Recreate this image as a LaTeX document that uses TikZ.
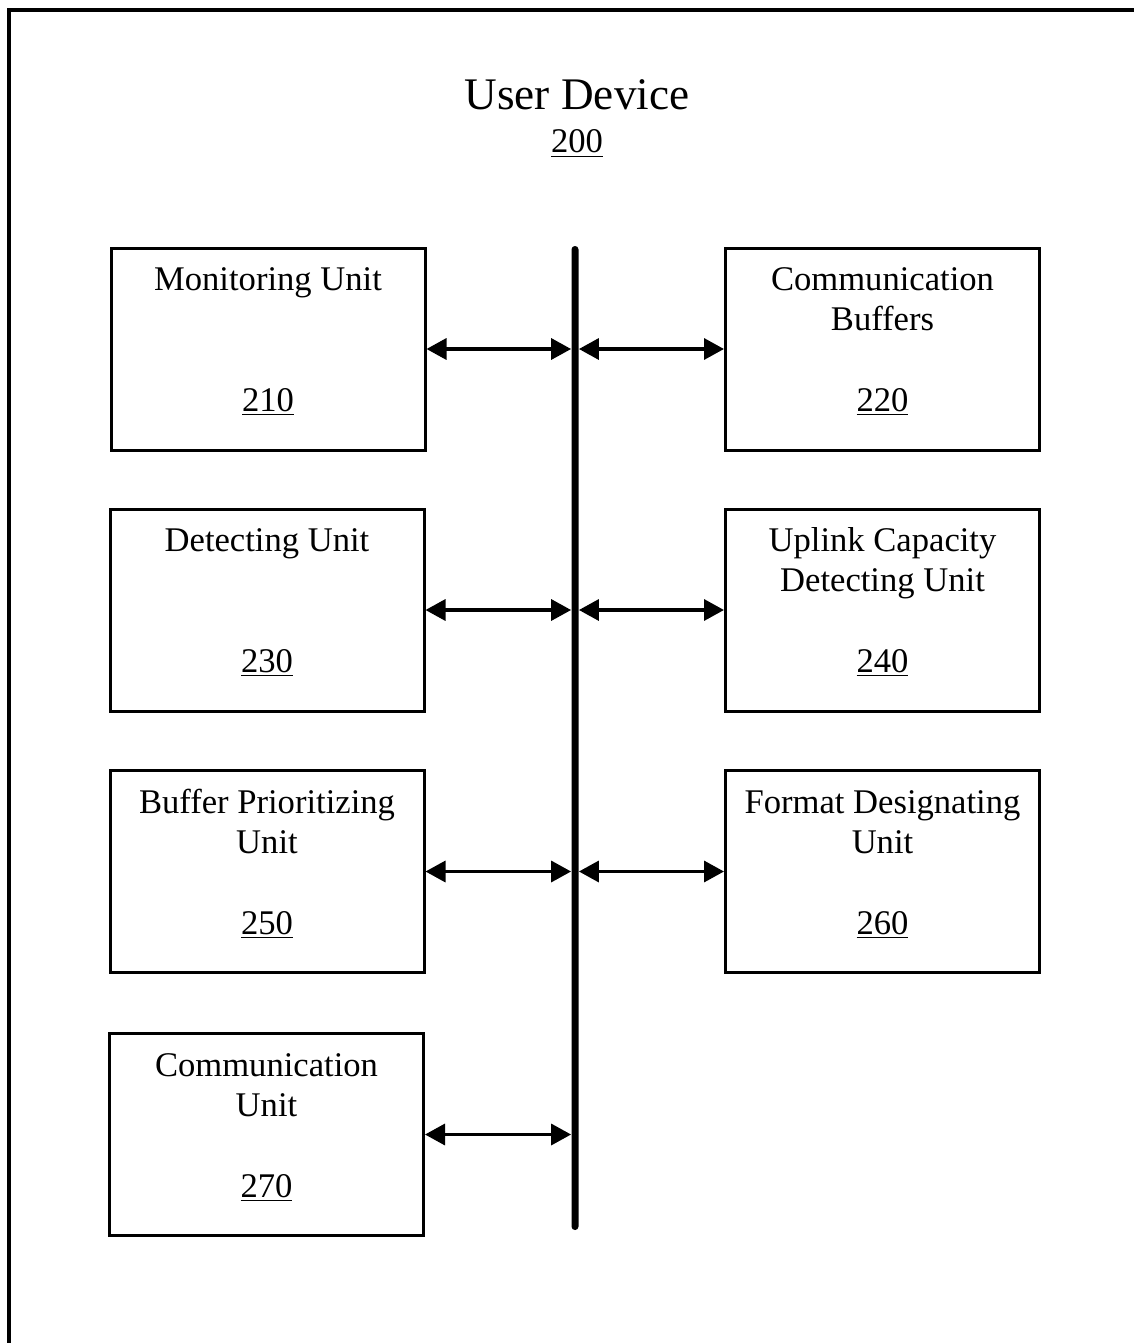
\documentclass[tikz,border=0pt]{standalone}
\usepackage{fontspec}
\setmainfont{Liberation Serif}
\usetikzlibrary{calc,arrows.meta}
\newcommand\mkunit[5]{%
  \node[unitbox] (#1) at #2 {};
  \node[utext] (#1a) at ($(#1.north)+(0,44)$) {#3};
  \node[utext] (#1b) at ($(#1.north)+(0,84)$) {#4};
  \node[utext] (#1n) at ($(#1.north)+(0,165)$) {\underline{#5}};
}
\tikzset{
  unitbox/.style={draw, line width=1.5pt, minimum width=157pt, minimum height=101pt, inner sep=0pt},
  utext/.style={anchor=base, inner sep=0pt, font=\fontsize{17.3}{20}\selectfont},
  conn/.style={line width=1.7pt, {Triangle[length=10pt,width=10.5pt]}-{Triangle[length=10pt,width=10.5pt]}},
  busline/.style={fill=black, minimum width=3.5pt, minimum height=492pt, inner sep=0pt, rounded corners=1.7pt}
}
\begin{document}
\begin{tikzpicture}[x=0.5pt,y=-0.5pt]
\useasboundingbox (0,0) rectangle (1134,1343);
\clip (0,0) rectangle (1134,1343);
\draw[line width=2pt] (9,1360) -- (9,10) -- (1150,10);
\node[anchor=base, inner sep=0pt, font=\fontsize{22.6}{26}\selectfont] (title) at (577,110) {User Device};
\node[anchor=base, inner sep=0pt, font=\fontsize{17.3}{20}\selectfont] (titlenum) at (577,153) {\underline{200}};
\node[busline] (bus) at (575,738) {};
\mkunit{m210}{(268,349)}{Monitoring Unit}{}{210}
\mkunit{m220}{(882.5,349)}{Communication}{Buffers}{220}
\mkunit{m230}{(267,610)}{Detecting Unit}{}{230}
\mkunit{m240}{(882.5,610)}{Uplink Capacity}{Detecting Unit}{240}
\mkunit{m250}{(267,871.5)}{Buffer Prioritizing}{Unit}{250}
\mkunit{m260}{(882.5,871.5)}{Format Designating}{Unit}{260}
\mkunit{m270}{(266.5,1134.5)}{Communication}{Unit}{270}
\draw[conn] (m210.east) -- (m210.east -| bus.west);
\draw[conn] (bus.east |- m220.west) -- (m220.west);
\draw[conn] (m230.east) -- (m230.east -| bus.west);
\draw[conn] (bus.east |- m240.west) -- (m240.west);
\draw[conn] (m250.east) -- (m250.east -| bus.west);
\draw[conn] (bus.east |- m260.west) -- (m260.west);
\draw[conn] (m270.east) -- (m270.east -| bus.west);
\end{tikzpicture}
\end{document}
